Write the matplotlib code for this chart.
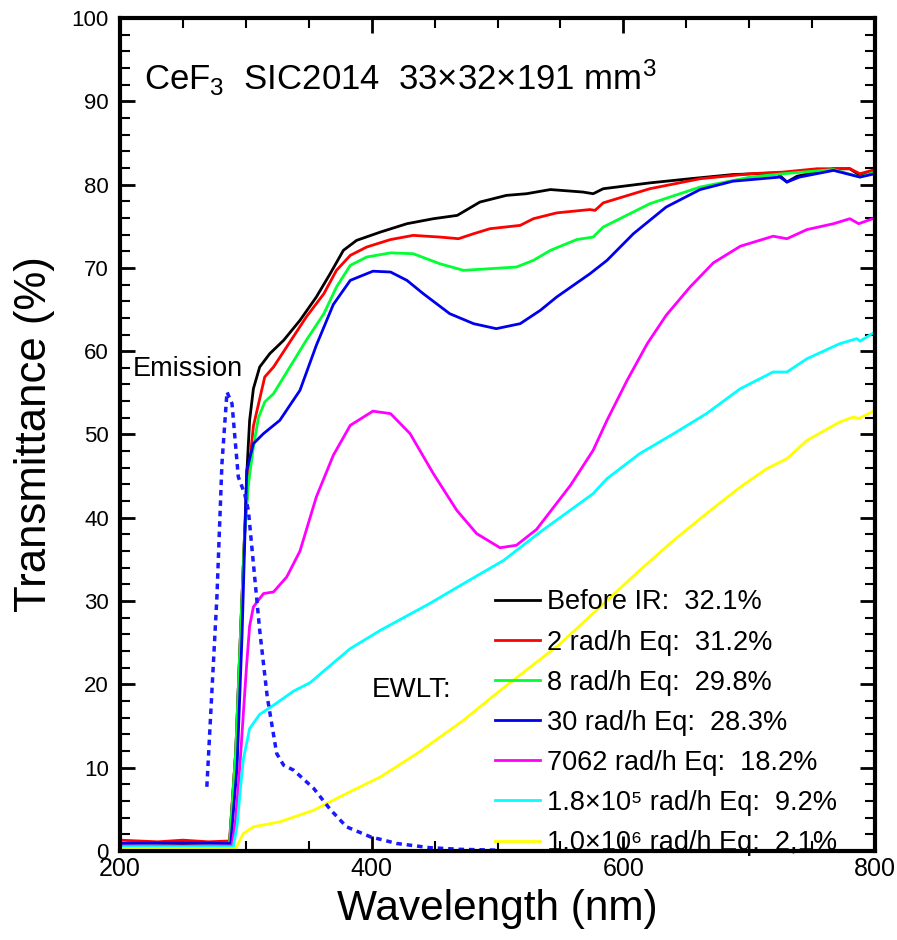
import numpy as np
import matplotlib.pyplot as plt
from matplotlib.ticker import MultipleLocator

plt.rcParams['font.family'] = ['Liberation Sans', 'DejaVu Sans']
plt.rcParams['mathtext.fontset'] = 'custom'
plt.rcParams['mathtext.rm'] = 'Liberation Sans'
plt.rcParams['mathtext.it'] = 'Liberation Sans:italic'

# transmittance curves (wavelength nm, transmittance %)
wl_before = [200, 230, 250, 270, 287, 292, 296, 299, 301, 303, 306, 311, 319, 330, 343, 356, 367, 377.5,
             388, 407, 428, 449, 468, 486, 507, 523, 542, 568, 576, 584, 621, 653, 687, 722, 730, 738,
             767, 780, 788, 800]
t_before = [0.9, 0.7, 0.9, 0.7, 0.8, 12, 27, 38, 46, 51.7, 55.5, 58.1, 59.7, 61.3, 63.7, 66.5, 69.3, 72.1,
            73.3, 74.3, 75.3, 75.9, 76.3, 77.9, 78.7, 78.9, 79.4, 79.1, 78.9, 79.5, 80.2, 80.7, 81.2, 81.4,
            80.3, 81.0, 81.9, 81.9, 81.1, 81.7]

wl_2 = [200, 230, 250, 270, 287, 292, 296, 299, 302, 306, 315, 322, 335, 348, 362, 372, 383, 396, 415,
        433, 454, 469, 481, 494, 518, 528.5, 547, 573.5, 577.5, 584, 621, 661, 701, 727, 754, 780, 788, 800]
t_2 = [1.3, 1.1, 1.3, 1.1, 1.2, 12, 27, 38, 45, 51, 56.9, 58.1, 61.1, 64.1, 66.9, 69.7, 71.5, 72.5, 73.4,
       73.9, 73.7, 73.5, 74.1, 74.7, 75.1, 75.9, 76.6, 77.0, 76.9, 77.8, 79.5, 80.7, 81.3, 81.5, 81.9,
       81.9, 81.3, 81.8]

wl_8 = [200, 250, 287, 292, 296, 299, 302, 306, 310, 315, 322, 335, 348, 362, 372, 383, 396, 415, 433,
        454, 473, 494, 515, 528.5, 542, 563, 576, 584, 621, 661, 701, 727, 767, 788, 800]
t_8 = [0.8, 1.0, 0.8, 12, 27, 38, 44, 48.5, 52, 53.9, 54.9, 58.1, 61.3, 64.5, 67.7, 70.3, 71.3, 71.8, 71.7,
       70.5, 69.7, 69.9, 70.1, 70.9, 72.1, 73.4, 73.7, 74.9, 77.7, 79.7, 80.9, 81.3, 81.8, 80.9, 81.5]

wl_30 = [200, 250, 288, 293, 297, 300.7, 306, 314, 327, 343, 356, 369.5, 383, 401, 415, 428, 441, 462,
         481, 499, 518, 534, 547, 573.5, 587, 608, 634, 661, 687, 724.5, 730, 740, 767, 788, 800]
t_30 = [0.9, 1.0, 0.9, 10, 26, 45.7, 48.9, 50.1, 51.7, 55.3, 60.7, 65.6, 68.5, 69.6, 69.5, 68.5, 66.9, 64.5,
        63.3, 62.7, 63.3, 64.9, 66.5, 69.3, 70.9, 74.1, 77.3, 79.4, 80.4, 80.9, 80.3, 80.9, 81.7, 80.9, 81.3]

wl_7062 = [200, 250, 289, 292, 295.4, 298, 300.7, 303, 306, 314, 322, 332.5, 343, 356, 369.5, 383, 401,
           415, 430.5, 449, 467.6, 483.4, 502, 515, 531, 558, 576, 587, 603, 619, 634, 653, 671.5, 693,
           719, 730, 746, 767, 780, 787, 800]
t_7062 = [0.6, 0.6, 0.6, 4, 10.5, 16.5, 22.5, 27, 29.3, 30.9, 31.1, 32.9, 36.0, 42.5, 47.5, 51.1, 52.8,
          52.5, 50.1, 45.3, 40.9, 38.1, 36.4, 36.7, 38.6, 43.9, 48.1, 51.7, 56.5, 60.9, 64.3, 67.7, 70.6,
          72.6, 73.8, 73.5, 74.6, 75.3, 75.9, 75.3, 76.0]

wl_18e5 = [200, 250, 290, 293, 295.4, 298, 303, 311, 322, 338, 351, 372, 383, 407, 446, 473, 505, 534,
           576, 587, 613, 640, 666, 693, 719, 730, 746, 772, 785.5, 788, 800]
t_18e5 = [0.5, 0.5, 0.5, 3, 7, 11, 14.7, 16.4, 17.5, 19.2, 20.2, 22.9, 24.3, 26.5, 29.7, 32.1, 34.9, 38.3,
          42.9, 44.7, 47.7, 50.1, 52.5, 55.5, 57.5, 57.5, 59.1, 60.9, 61.5, 61.2, 62.3]

wl_1e6 = [200, 250, 292, 295, 298, 306, 327, 354, 380, 407, 436, 473, 499, 550, 613, 640, 666, 693, 714,
          730, 746, 772, 783, 787, 800]
t_1e6 = [0.3, 0.3, 0.3, 1.2, 2.1, 2.9, 3.5, 4.9, 6.9, 8.9, 11.7, 15.7, 18.9, 24.9, 33.7, 37.3, 40.5, 43.7,
         45.9, 47.1, 49.3, 51.5, 52.1, 51.9, 52.9]

# CeF3 emission spectrum (arbitrary scale)
wl_em = [269, 277, 281, 285, 289, 294, 299, 302, 306, 311, 317, 324.5, 330, 338, 354, 367, 380, 399, 420,
         446, 470, 500]
em = [7.7, 30.5, 46.5, 55.1, 53.7, 44.9, 42.9, 40.9, 34.5, 26.5, 18.5, 11.7, 10.3, 9.7, 7.5, 5.0, 2.9, 1.7,
      0.9, 0.4, 0.2, 0.1]

labels = ['Before IR:  32.1%',
          '2 rad/h Eq:  31.2%',
          '8 rad/h Eq:  29.8%',
          '30 rad/h Eq:  28.3%',
          '7062 rad/h Eq:  18.2%',
          '1.8\u00d710\u2075 rad/h Eq:  9.2%',
          '1.0\u00d710\u2076 rad/h Eq:  2,1%']
colors = ['black', '#ff0000', '#00ff33', '#0000ee', '#ff00ff', '#00ffff', '#ffff00']
series = [(wl_before, t_before), (wl_2, t_2), (wl_8, t_8), (wl_30, t_30),
          (wl_7062, t_7062), (wl_18e5, t_18e5), (wl_1e6, t_1e6)]

fig = plt.figure(figsize=(8.97, 9.4), dpi=100)
ax = fig.add_axes([0.1338, 0.0947, 0.8417, 0.8862])

for (x, y), c, lab in zip(series, colors, labels):
    ax.plot(x, y, color=c, lw=2.0, label=lab)

ax.plot(wl_em, em, color='#1a1aff', lw=2.5, ls=(0, (1.6, 1.4)))

ax.set_xlim(200, 800)
ax.set_ylim(0, 100)
ax.xaxis.set_major_locator(MultipleLocator(200))
ax.xaxis.set_minor_locator(MultipleLocator(50))
ax.yaxis.set_major_locator(MultipleLocator(10))
ax.yaxis.set_minor_locator(MultipleLocator(2))
ax.tick_params(which='both', direction='in', top=True, right=True)
ax.tick_params(which='major', length=11, width=2)
ax.tick_params(which='minor', length=7, width=1.5)
ax.tick_params(axis='x', labelsize=18, pad=4)
ax.tick_params(axis='y', labelsize=16, pad=8)
for s in ax.spines.values():
    s.set_linewidth(3)

ax.set_xlabel('Wavelength (nm)', fontsize=30.5, labelpad=6)
ax.set_ylabel('Transmittance (%)', fontsize=31.5, labelpad=12)

ax.text(219, 92.8, 'CeF$_3$  SIC2014  33\u00d732\u00d7191 mm$^3$', fontsize=25, va='center')
ax.text(210.5, 57.9, 'Emission', fontsize=19.5, ha='left', va='center')
ax.text(400, 19.3, 'EWLT:', fontsize=20, ha='left', va='center')

ax.legend(loc='lower left', bbox_to_anchor=(0.4967, -0.006), frameon=False, fontsize=19.5,
          handlelength=1.67, handletextpad=0.26, labelspacing=0.52, borderpad=0, borderaxespad=0)

fig.savefig('out.png', dpi=100)
